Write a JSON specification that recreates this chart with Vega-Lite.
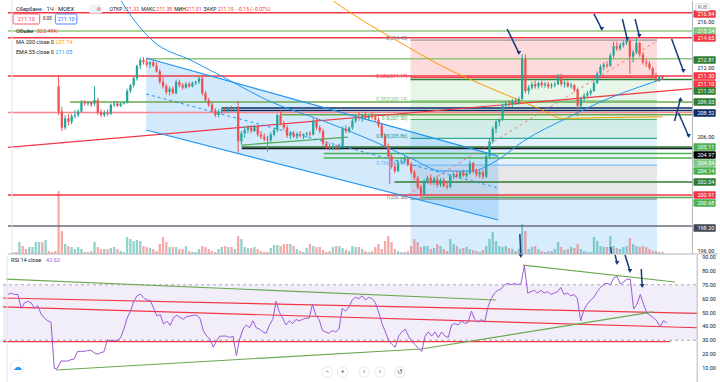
{
"$schema":"https://vega.github.io/schema/vega-lite/v6.json",
"padding":0,
"spacing":1,
"bounds":"flush",
"background":"#ffffff",
"config":{"view":{"stroke":null},"font":"Roboto"},
"datasets":{
"one":[{}],
"bars":[
{"i":0,"o":224.6,"h":224.9,"l":224.4,"c":224.7,"v":300,"r":63},
{"i":1,"o":224.7,"h":224.9,"l":224.5,"c":224.6,"v":300,"r":64},
{"i":2,"o":224.6,"h":225.1,"l":224.5,"c":225.0,"v":1800,"r":63},
{"i":3,"o":225.0,"h":225.1,"l":224.3,"c":224.4,"v":1200,"r":63},
{"i":4,"o":224.4,"h":224.6,"l":224.2,"c":224.3,"v":750,"r":53},
{"i":5,"o":224.3,"h":224.7,"l":224.2,"c":224.6,"v":1050,"r":57},
{"i":6,"o":224.6,"h":224.8,"l":224.5,"c":224.7,"v":1050,"r":58},
{"i":7,"o":224.7,"h":224.9,"l":224.5,"c":224.8,"v":1800,"r":57},
{"i":8,"o":224.8,"h":225.0,"l":224.4,"c":224.9,"v":1800,"r":53},
{"i":9,"o":224.9,"h":225.0,"l":224.2,"c":224.3,"v":1800,"r":55},
{"i":10,"o":224.3,"h":224.6,"l":224.1,"c":224.5,"v":2100,"r":49},
{"i":11,"o":224.5,"h":224.6,"l":224.0,"c":224.1,"v":450,"r":46},
{"i":12,"o":224.1,"h":224.3,"l":223.9,"c":224.0,"v":300,"r":44},
{"i":13,"o":224.0,"h":224.2,"l":223.8,"c":223.9,"v":450,"r":43},
{"i":14,"o":210.4,"h":211.4,"l":207.9,"c":208.2,"v":9450,"r":9.5},
{"i":15,"o":208.2,"h":208.6,"l":206.5,"c":206.8,"v":3450,"r":10},
{"i":16,"o":206.8,"h":207.9,"l":206.6,"c":207.6,"v":1500,"r":15},
{"i":17,"o":207.6,"h":208.0,"l":207.0,"c":207.3,"v":1200,"r":15},
{"i":18,"o":207.3,"h":208.0,"l":207.1,"c":207.8,"v":1050,"r":15},
{"i":19,"o":207.8,"h":208.3,"l":207.6,"c":207.9,"v":750,"r":16},
{"i":20,"o":207.9,"h":208.4,"l":207.7,"c":208.2,"v":1050,"r":16.5},
{"i":21,"o":208.2,"h":209.2,"l":208.1,"c":209.0,"v":750,"r":22},
{"i":22,"o":209.0,"h":209.2,"l":208.7,"c":208.9,"v":300,"r":22},
{"i":23,"o":208.9,"h":209.1,"l":208.7,"c":209.0,"v":300,"r":22},
{"i":24,"o":209.0,"h":209.1,"l":208.6,"c":208.8,"v":450,"r":22.5},
{"i":25,"o":208.9,"h":210.4,"l":208.7,"c":209.2,"v":1800,"r":23},
{"i":26,"o":209.2,"h":209.4,"l":207.9,"c":208.1,"v":1050,"r":21},
{"i":27,"o":208.1,"h":208.4,"l":207.7,"c":207.9,"v":750,"r":20},
{"i":28,"o":207.9,"h":208.3,"l":207.7,"c":208.1,"v":750,"r":21},
{"i":29,"o":208.1,"h":208.4,"l":207.8,"c":208.0,"v":750,"r":21.7},
{"i":30,"o":208.0,"h":208.9,"l":207.9,"c":208.8,"v":900,"r":30},
{"i":31,"o":208.8,"h":209.1,"l":208.6,"c":208.9,"v":1050,"r":30},
{"i":32,"o":208.9,"h":209.1,"l":208.6,"c":208.7,"v":750,"r":29.5},
{"i":33,"o":208.7,"h":209.0,"l":208.6,"c":208.9,"v":450,"r":30},
{"i":34,"o":208.9,"h":209.1,"l":208.8,"c":209.0,"v":300,"r":31.6},
{"i":35,"o":209.0,"h":210.2,"l":208.9,"c":210.0,"v":2550,"r":38},
{"i":36,"o":210.0,"h":210.6,"l":209.8,"c":210.5,"v":2250,"r":46},
{"i":37,"o":210.5,"h":211.3,"l":210.3,"c":211.1,"v":1950,"r":51},
{"i":38,"o":211.1,"h":212.3,"l":210.9,"c":212.2,"v":2100,"r":58},
{"i":39,"o":212.2,"h":212.9,"l":211.9,"c":212.7,"v":1950,"r":62},
{"i":40,"o":212.7,"h":212.95,"l":212.3,"c":212.5,"v":1200,"r":63.3},
{"i":41,"o":212.5,"h":212.8,"l":212.1,"c":212.3,"v":1050,"r":60.5},
{"i":42,"o":212.3,"h":212.6,"l":212.0,"c":212.5,"v":900,"r":59},
{"i":43,"o":212.5,"h":212.7,"l":212.1,"c":212.2,"v":750,"r":58.7},
{"i":44,"o":212.2,"h":212.5,"l":211.6,"c":211.7,"v":450,"r":53},
{"i":45,"o":211.7,"h":211.9,"l":210.6,"c":210.8,"v":1500,"r":47.5},
{"i":46,"o":210.8,"h":211.2,"l":210.2,"c":210.4,"v":2550,"r":48.5},
{"i":47,"o":210.4,"h":210.6,"l":209.7,"c":209.9,"v":1800,"r":41.7},
{"i":48,"o":209.9,"h":210.4,"l":209.6,"c":210.2,"v":1050,"r":43.7},
{"i":49,"o":210.2,"h":210.4,"l":209.7,"c":209.8,"v":1050,"r":40.8},
{"i":50,"o":209.8,"h":211.0,"l":209.7,"c":210.8,"v":1050,"r":46.2},
{"i":51,"o":210.8,"h":211.0,"l":210.3,"c":210.5,"v":750,"r":48},
{"i":52,"o":210.5,"h":210.7,"l":210.1,"c":210.3,"v":750,"r":46.5},
{"i":53,"o":210.3,"h":210.8,"l":210.2,"c":210.6,"v":1200,"r":45.2},
{"i":54,"o":210.6,"h":210.8,"l":210.3,"c":210.4,"v":450,"r":47},
{"i":55,"o":210.4,"h":210.8,"l":210.3,"c":210.7,"v":300,"r":47.5},
{"i":56,"o":210.7,"h":210.9,"l":210.5,"c":210.8,"v":300,"r":48},
{"i":57,"o":210.8,"h":211.3,"l":210.6,"c":211.1,"v":750,"r":48},
{"i":58,"o":211.1,"h":211.3,"l":209.6,"c":209.8,"v":1200,"r":46},
{"i":59,"o":209.8,"h":210.0,"l":209.0,"c":209.2,"v":1050,"r":37},
{"i":60,"o":209.2,"h":209.4,"l":208.6,"c":208.8,"v":750,"r":33},
{"i":61,"o":208.8,"h":209.0,"l":208.1,"c":208.3,"v":450,"r":31},
{"i":62,"o":208.3,"h":208.5,"l":207.7,"c":207.9,"v":300,"r":25},
{"i":63,"o":207.9,"h":208.4,"l":207.7,"c":208.2,"v":750,"r":29.5},
{"i":64,"o":208.2,"h":208.6,"l":208.0,"c":208.4,"v":1050,"r":33},
{"i":65,"o":208.4,"h":208.6,"l":208.1,"c":208.3,"v":1200,"r":33},
{"i":66,"o":208.3,"h":208.6,"l":208.1,"c":208.5,"v":1050,"r":33},
{"i":67,"o":208.5,"h":208.7,"l":208.2,"c":208.4,"v":1050,"r":32},
{"i":68,"o":208.4,"h":208.6,"l":208.2,"c":208.5,"v":750,"r":33},
{"i":69,"o":208.5,"h":209.1,"l":204.6,"c":205.6,"v":2700,"r":19},
{"i":70,"o":205.6,"h":206.5,"l":205.3,"c":206.3,"v":2250,"r":31},
{"i":71,"o":206.3,"h":206.9,"l":205.9,"c":206.6,"v":1050,"r":38},
{"i":72,"o":206.6,"h":207.0,"l":206.3,"c":206.8,"v":900,"r":41},
{"i":73,"o":206.8,"h":207.0,"l":206.3,"c":206.5,"v":900,"r":39},
{"i":74,"o":206.5,"h":207.0,"l":206.4,"c":206.9,"v":1050,"r":44},
{"i":75,"o":206.9,"h":207.0,"l":206.0,"c":206.2,"v":750,"r":39},
{"i":76,"o":206.2,"h":206.5,"l":205.8,"c":206.0,"v":450,"r":38},
{"i":77,"o":206.0,"h":206.3,"l":205.6,"c":205.8,"v":300,"r":36},
{"i":78,"o":205.8,"h":206.1,"l":204.7,"c":205.7,"v":300,"r":35},
{"i":79,"o":205.7,"h":206.4,"l":205.5,"c":206.2,"v":900,"r":41},
{"i":80,"o":206.2,"h":206.8,"l":206.0,"c":206.6,"v":1350,"r":45},
{"i":81,"o":206.6,"h":208.0,"l":206.4,"c":207.9,"v":1350,"r":58},
{"i":82,"o":207.9,"h":208.3,"l":207.0,"c":207.2,"v":1200,"r":50},
{"i":83,"o":207.2,"h":207.4,"l":206.6,"c":206.8,"v":1500,"r":46},
{"i":84,"o":206.8,"h":207.0,"l":205.9,"c":206.1,"v":1500,"r":41},
{"i":85,"o":206.1,"h":206.5,"l":205.8,"c":206.3,"v":1500,"r":44},
{"i":86,"o":206.3,"h":206.5,"l":205.9,"c":206.0,"v":1200,"r":42},
{"i":87,"o":206.0,"h":206.4,"l":205.8,"c":206.2,"v":750,"r":45},
{"i":88,"o":206.2,"h":206.5,"l":205.9,"c":206.1,"v":450,"r":44},
{"i":89,"o":206.1,"h":206.3,"l":205.8,"c":206.2,"v":300,"r":45},
{"i":90,"o":206.2,"h":206.4,"l":205.9,"c":206.3,"v":900,"r":46},
{"i":91,"o":206.3,"h":206.5,"l":206.0,"c":206.2,"v":1500,"r":46},
{"i":92,"o":206.2,"h":207.6,"l":206.1,"c":207.4,"v":1200,"r":56},
{"i":93,"o":207.4,"h":207.6,"l":206.6,"c":206.8,"v":1050,"r":48},
{"i":94,"o":206.8,"h":207.0,"l":206.3,"c":206.5,"v":1050,"r":45},
{"i":95,"o":206.5,"h":206.7,"l":205.2,"c":205.4,"v":600,"r":37},
{"i":96,"o":205.4,"h":205.6,"l":204.9,"c":205.1,"v":300,"r":36},
{"i":97,"o":205.1,"h":205.4,"l":204.8,"c":205.0,"v":450,"r":35},
{"i":98,"o":205.0,"h":205.3,"l":204.8,"c":205.1,"v":1050,"r":37},
{"i":99,"o":205.1,"h":205.3,"l":204.8,"c":205.0,"v":1200,"r":36},
{"i":100,"o":205.0,"h":205.4,"l":204.8,"c":205.2,"v":1200,"r":38},
{"i":101,"o":205.2,"h":206.9,"l":205.1,"c":206.7,"v":900,"r":53},
{"i":102,"o":206.7,"h":207.0,"l":206.3,"c":206.5,"v":600,"r":51},
{"i":103,"o":206.5,"h":206.9,"l":206.3,"c":206.8,"v":450,"r":54},
{"i":104,"o":206.8,"h":207.6,"l":206.6,"c":207.4,"v":1200,"r":59},
{"i":105,"o":207.4,"h":207.9,"l":207.2,"c":207.7,"v":1050,"r":61},
{"i":106,"o":207.7,"h":208.1,"l":207.4,"c":207.6,"v":1050,"r":60},
{"i":107,"o":207.6,"h":208.0,"l":207.3,"c":207.9,"v":750,"r":62},
{"i":108,"o":207.9,"h":208.2,"l":207.5,"c":207.6,"v":450,"r":59},
{"i":109,"o":207.6,"h":208.0,"l":207.4,"c":207.8,"v":300,"r":61},
{"i":110,"o":207.8,"h":208.1,"l":207.5,"c":207.7,"v":450,"r":60},
{"i":111,"o":207.7,"h":208.0,"l":207.3,"c":207.5,"v":1050,"r":57},
{"i":112,"o":207.5,"h":207.7,"l":206.8,"c":207.0,"v":1500,"r":50},
{"i":113,"o":207.0,"h":207.2,"l":205.9,"c":206.1,"v":750,"r":42},
{"i":114,"o":206.1,"h":206.3,"l":205.0,"c":205.2,"v":1950,"r":36},
{"i":115,"o":205.2,"h":205.4,"l":204.1,"c":204.3,"v":2700,"r":30},
{"i":116,"o":204.3,"h":204.5,"l":203.2,"c":203.4,"v":1800,"r":27},
{"i":117,"o":203.4,"h":203.7,"l":202.8,"c":203.0,"v":750,"r":25},
{"i":118,"o":203.0,"h":204.0,"l":202.9,"c":203.8,"v":450,"r":33},
{"i":119,"o":203.8,"h":204.2,"l":203.6,"c":203.9,"v":300,"r":36},
{"i":120,"o":203.9,"h":204.3,"l":203.7,"c":204.1,"v":300,"r":38},
{"i":121,"o":204.1,"h":204.2,"l":203.4,"c":203.6,"v":450,"r":33},
{"i":122,"o":203.6,"h":203.8,"l":202.7,"c":202.9,"v":1200,"r":29},
{"i":123,"o":202.9,"h":203.1,"l":202.2,"c":202.4,"v":2250,"r":27},
{"i":124,"o":202.4,"h":202.6,"l":201.4,"c":201.6,"v":1800,"r":24},
{"i":125,"o":201.6,"h":201.8,"l":200.6,"c":201.0,"v":1050,"r":22},
{"i":126,"o":201.0,"h":202.3,"l":200.9,"c":202.1,"v":1200,"r":33},
{"i":127,"o":202.1,"h":202.6,"l":201.9,"c":202.4,"v":1200,"r":36},
{"i":128,"o":202.4,"h":202.7,"l":201.8,"c":202.0,"v":750,"r":33},
{"i":129,"o":202.0,"h":202.5,"l":201.8,"c":202.3,"v":900,"r":36},
{"i":130,"o":202.3,"h":202.6,"l":201.6,"c":201.8,"v":1500,"r":32},
{"i":131,"o":201.8,"h":202.4,"l":201.6,"c":202.2,"v":1200,"r":36},
{"i":132,"o":202.2,"h":202.4,"l":201.6,"c":201.7,"v":750,"r":33},
{"i":133,"o":201.7,"h":202.0,"l":201.4,"c":201.6,"v":450,"r":32},
{"i":134,"o":201.6,"h":202.7,"l":201.5,"c":202.6,"v":2250,"r":41},
{"i":135,"o":202.6,"h":202.9,"l":202.3,"c":202.7,"v":1500,"r":42},
{"i":136,"o":202.7,"h":203.0,"l":202.4,"c":202.5,"v":1200,"r":41},
{"i":137,"o":202.5,"h":203.0,"l":202.3,"c":202.9,"v":750,"r":44},
{"i":138,"o":202.9,"h":203.1,"l":202.5,"c":202.6,"v":900,"r":42},
{"i":139,"o":202.6,"h":202.9,"l":202.4,"c":202.8,"v":1050,"r":43},
{"i":140,"o":202.8,"h":203.9,"l":202.7,"c":203.7,"v":750,"r":51},
{"i":141,"o":203.7,"h":203.8,"l":202.8,"c":203.0,"v":600,"r":45},
{"i":142,"o":203.0,"h":203.2,"l":202.5,"c":202.7,"v":450,"r":43},
{"i":143,"o":202.7,"h":203.1,"l":202.4,"c":202.9,"v":300,"r":45},
{"i":144,"o":202.9,"h":203.1,"l":202.3,"c":202.5,"v":600,"r":43},
{"i":145,"o":202.5,"h":204.5,"l":202.4,"c":204.3,"v":1200,"r":54},
{"i":146,"o":204.3,"h":205.8,"l":204.1,"c":205.6,"v":2250,"r":60},
{"i":147,"o":205.6,"h":206.9,"l":205.4,"c":206.7,"v":3300,"r":64},
{"i":148,"o":206.7,"h":207.5,"l":206.3,"c":207.3,"v":1950,"r":66},
{"i":149,"o":207.3,"h":207.6,"l":206.9,"c":207.5,"v":1200,"r":67},
{"i":150,"o":207.5,"h":208.9,"l":207.4,"c":208.7,"v":1050,"r":70},
{"i":151,"o":208.7,"h":209.1,"l":208.5,"c":208.9,"v":1200,"r":71},
{"i":152,"o":208.9,"h":209.2,"l":208.6,"c":208.8,"v":900,"r":70},
{"i":153,"o":208.8,"h":209.3,"l":208.6,"c":209.1,"v":750,"r":71},
{"i":154,"o":209.1,"h":209.4,"l":208.8,"c":209.0,"v":450,"r":70},
{"i":155,"o":209.0,"h":209.5,"l":208.8,"c":209.3,"v":750,"r":71},
{"i":156,"o":209.3,"h":213.2,"l":209.2,"c":212.8,"v":4500,"r":84},
{"i":157,"o":212.8,"h":213.2,"l":209.8,"c":210.0,"v":3450,"r":64},
{"i":158,"o":210.0,"h":210.5,"l":209.7,"c":210.3,"v":750,"r":65},
{"i":159,"o":210.3,"h":210.8,"l":210.1,"c":210.6,"v":1050,"r":66},
{"i":160,"o":210.6,"h":210.9,"l":210.2,"c":210.4,"v":1200,"r":64},
{"i":161,"o":210.4,"h":210.8,"l":210.2,"c":210.7,"v":750,"r":66},
{"i":162,"o":210.7,"h":210.9,"l":210.3,"c":210.5,"v":450,"r":64},
{"i":163,"o":210.5,"h":210.8,"l":210.3,"c":210.6,"v":300,"r":65},
{"i":164,"o":210.6,"h":210.8,"l":210.2,"c":210.4,"v":450,"r":63},
{"i":165,"o":210.4,"h":210.7,"l":210.2,"c":210.5,"v":450,"r":64},
{"i":166,"o":210.5,"h":210.8,"l":210.3,"c":210.6,"v":750,"r":65},
{"i":167,"o":210.6,"h":211.5,"l":210.5,"c":211.2,"v":1800,"r":68},
{"i":168,"o":211.2,"h":211.5,"l":210.4,"c":210.6,"v":1050,"r":63},
{"i":169,"o":210.6,"h":210.9,"l":210.3,"c":210.7,"v":600,"r":64},
{"i":170,"o":210.7,"h":210.9,"l":210.3,"c":210.4,"v":750,"r":62},
{"i":171,"o":210.4,"h":210.7,"l":210.2,"c":210.5,"v":1050,"r":63},
{"i":172,"o":210.5,"h":210.6,"l":209.9,"c":210.1,"v":900,"r":60},
{"i":173,"o":210.1,"h":210.3,"l":207.8,"c":208.7,"v":1500,"r":44},
{"i":174,"o":208.7,"h":209.5,"l":208.5,"c":209.3,"v":750,"r":52},
{"i":175,"o":209.3,"h":209.8,"l":209.1,"c":209.6,"v":450,"r":56},
{"i":176,"o":209.6,"h":210.0,"l":209.4,"c":209.8,"v":300,"r":59},
{"i":177,"o":209.8,"h":210.2,"l":209.6,"c":210.0,"v":300,"r":61},
{"i":178,"o":210.0,"h":210.9,"l":209.9,"c":210.7,"v":2550,"r":65},
{"i":179,"o":210.7,"h":211.7,"l":210.6,"c":211.5,"v":1950,"r":68},
{"i":180,"o":211.5,"h":212.3,"l":211.3,"c":212.1,"v":1200,"r":70.5},
{"i":181,"o":212.1,"h":212.5,"l":211.8,"c":212.3,"v":1050,"r":71},
{"i":182,"o":212.3,"h":212.6,"l":212.0,"c":212.2,"v":1050,"r":70},
{"i":183,"o":212.2,"h":213.3,"l":212.1,"c":213.1,"v":2700,"r":75},
{"i":184,"o":213.1,"h":214.3,"l":212.9,"c":213.9,"v":1200,"r":76},
{"i":185,"o":213.9,"h":214.3,"l":213.5,"c":213.7,"v":900,"r":70.5},
{"i":186,"o":213.7,"h":214.2,"l":213.5,"c":214.0,"v":750,"r":72},
{"i":187,"o":214.0,"h":214.4,"l":213.8,"c":214.2,"v":1050,"r":74},
{"i":188,"o":214.2,"h":214.6,"l":214.0,"c":214.4,"v":1200,"r":74},
{"i":189,"o":214.4,"h":214.5,"l":211.5,"c":213.0,"v":2400,"r":52.5},
{"i":190,"o":213.0,"h":213.6,"l":212.5,"c":213.4,"v":1500,"r":56},
{"i":191,"o":213.4,"h":214.6,"l":213.2,"c":214.2,"v":1200,"r":63},
{"i":192,"o":214.2,"h":214.3,"l":213.0,"c":213.2,"v":1050,"r":56},
{"i":193,"o":213.2,"h":213.4,"l":212.3,"c":212.5,"v":1200,"r":49.6},
{"i":194,"o":212.5,"h":212.8,"l":212.1,"c":212.4,"v":1050,"r":48},
{"i":195,"o":212.4,"h":212.6,"l":211.8,"c":212.0,"v":750,"r":46},
{"i":196,"o":212.0,"h":212.1,"l":211.2,"c":211.4,"v":450,"r":44},
{"i":197,"o":211.4,"h":211.6,"l":210.8,"c":210.9,"v":450,"r":39.6},
{"i":198,"o":210.9,"h":211.3,"l":210.8,"c":211.25,"v":300,"r":44},
{"i":199,"o":211.32,"h":211.38,"l":211.01,"c":211.10,"v":323.49,"r":42.63}
],
"fib":[
{"lab":"0(214.45)","p":214.45,"pz":211.17,"k":"l0","kz":"l236"},
{"lab":"0.236(211.17)","p":211.17,"pz":209.14,"k":"l236","kz":"l382"},
{"lab":"0.382(209.14)","p":209.14,"pz":207.5,"k":"l382","kz":"l5"},
{"lab":"0.5(207.50)","p":207.5,"pz":205.86,"k":"l5","kz":"l618"},
{"lab":"0.618(205.86)","p":205.86,"pz":203.52,"k":"l618","kz":"l786"},
{"lab":"0.786(203.52)","p":203.52,"pz":200.55,"k":"l786","kz":"l1"},
{"lab":"1(200.55)","p":200.55,"pz":191.96,"k":"l1","kz":"l1618"}
],
"chan":[{"i":40.8,"p":212.88,"p2":206.59},{"i":148.7,"p":204.31,"p2":198.72}],
"hl":[
{"p":216.84,"i":-1.5,"i2":208.2,"k":"red"},
{"p":215.24,"i":-1.5,"i2":208.2,"k":"lgreen"},
{"p":214.65,"i":-1.5,"i2":208.2,"k":"red"},
{"p":212.81,"i":40.8,"i2":208.2,"k":"lgreen"},
{"p":211.3,"i":-1.5,"i2":208.2,"k":"red"},
{"p":211.0,"i":121.8,"i2":208.2,"k":"dgreen"},
{"p":209.03,"i":17.5,"i2":208.2,"k":"mgreen"},
{"p":208.52,"i":64.1,"i2":208.2,"k":"navy"},
{"p":208.3,"i":64.1,"i2":208.2,"k":"navy"},
{"p":208.11,"i":-1.5,"i2":208.2,"k":"pink"},
{"p":207.92,"i":82.2,"i2":208.2,"k":"mgreen"},
{"p":205.11,"i":70.1,"i2":208.2,"k":"dgreen"},
{"p":204.97,"i":70.1,"i2":208.2,"k":"black"},
{"p":204.54,"i":95.2,"i2":208.2,"k":"green"},
{"p":204.14,"i":95.2,"i2":208.2,"k":"green"},
{"p":202.04,"i":116.9,"i2":208.2,"k":"dgreen"},
{"p":200.91,"i":-1.5,"i2":208.2,"k":"red"},
{"p":200.68,"i":125.4,"i2":208.2,"k":"green"},
{"p":198.2,"i":-1.5,"i2":208.2,"k":"gray"}
],
"tl":[
{"id":"rt","k":"red","i":-1.5,"p":205.06},{"id":"rt","k":"red","i":208.2,"p":210.21},
{"id":"cu","k":"blue","i":40.8,"p":212.88},{"id":"cu","k":"blue","i":148.7,"p":204.31},
{"id":"cl","k":"blue","i":40.8,"p":206.59},{"id":"cl","k":"blue","i":148.7,"p":198.72},
{"id":"gs","k":"green","i":70.1,"p":205.27},{"id":"gs","k":"green","i":102.7,"p":205.97}
],
"tld":[
{"id":"cm","k":"blue","i":40.8,"p":209.73},{"id":"cm","k":"blue","i":148.7,"p":201.52},
{"id":"pk","k":"pink","i":119.3,"p":200.64},{"id":"pk","k":"pink","i":197.3,"p":214.37}
],
"ema":[{"i":28.7,"p":220.05},{"i":33.2,"p":217.86},{"i":37.8,"p":215.94},{"i":42.9,"p":214.37},{"i":55,"p":212.62},{"i":65,"p":211.13},{"i":79.2,"p":209.03},{"i":95.2,"p":207.37},{"i":110.3,"p":205.63},{"i":122.4,"p":204.05},{"i":131.4,"p":203.0},{"i":140.5,"p":203.0},{"i":148,"p":203.88},{"i":156.5,"p":205.63},{"i":169.8,"p":207.64},{"i":182.8,"p":209.38},{"i":191.9,"p":210.35},{"i":199,"p":211.05}],
"ma":[{"i":92,"p":219.2},{"i":98.2,"p":217.86},{"i":108,"p":216.0},{"i":117.8,"p":214.37},{"i":131.4,"p":212.18},{"i":150.5,"p":209.73},{"i":160.7,"p":208.51},{"i":168.6,"p":207.6},{"i":182.8,"p":207.68},{"i":199,"p":207.74}],
"arr":[
{"i":151.4,"p":215.41,"i2":155.0,"p2":213.32,"d":"down"},
{"i":178.0,"p":216.73,"i2":180.4,"p2":215.41,"d":"down"},
{"i":186.7,"p":216.29,"i2":188.2,"p2":214.54,"d":"down"},
{"i":190.6,"p":216.29,"i2":191.9,"p2":214.8,"d":"down"},
{"i":201.8,"p":214.54,"i2":205.4,"p2":211.74,"d":"down"},
{"i":202.7,"p":207.37,"i2":204.5,"p2":209.3,"d":"up"},
{"i":203.9,"p":208.07,"i2":207.0,"p2":206.06,"d":"down"},
{"i":155.3,"p":197.5,"i2":155.6,"p2":195.57,"d":"down"},
{"i":183.1,"p":196.36,"i2":183.4,"p2":195.75,"d":"none"}
],
"tags":[
{"t":"216.84","ty":216.73,"k":"red"},
{"t":"215.24","ty":215.24,"k":"lgreen"},
{"t":"214.65","ty":214.63,"k":"red"},
{"t":"212.81","ty":212.71,"k":"dgreen"},
{"t":"211.30","ty":211.31,"k":"red"},
{"t":"211.10","ty":210.61,"k":"red"},
{"t":"211.00","ty":209.99,"k":"dgreen"},
{"t":"209.03","ty":209.03,"k":"dgreen"},
{"t":"208.52","ty":208.07,"k":"navy"},
{"t":"205.11","ty":205.1,"k":"green"},
{"t":"204.97","ty":204.4,"k":"black"},
{"t":"204.54","ty":203.7,"k":"lgreen"},
{"t":"204.14","ty":203.0,"k":"green"},
{"t":"202.04","ty":202.04,"k":"dgreen"},
{"t":"200.91","ty":200.9,"k":"red"},
{"t":"200.68","ty":200.21,"k":"green"},
{"t":"198.20","ty":198.02,"k":"gray"}
],
"pticks":[{"p":196},{"p":206},{"p":212},{"p":216}],
"rtl":[
{"id":"r1","k":"red","i":-1.5,"r":60.45},{"id":"r1","k":"red","i":208.2,"r":49.4},
{"id":"r2","k":"red","i":-1.5,"r":54.0},{"id":"r2","k":"red","i":208.2,"r":39.0},
{"id":"r3","k":"red","i":-1.5,"r":29},{"id":"r3","k":"red","i":200,"r":29},
{"id":"g1","k":"green","i":-0.6,"r":74.1},{"id":"g1","k":"green","i":147.4,"r":59.0},
{"id":"g2","k":"green","i":155.6,"r":84.2},{"id":"g2","k":"green","i":201.5,"r":72.0},
{"id":"g3","k":"green","i":14.5,"r":8.55},{"id":"g3","k":"green","i":124.8,"r":23.7},{"id":"g3","k":"green","i":194.9,"r":50.4}
],
"rarr":[
{"i":183.4,"r":91.44,"i2":184.0,"r2":85.7},
{"i":186.4,"r":91.44,"i2":187.9,"r2":79.9},
{"i":191.3,"r":81.35,"i2":191.6,"r2":69.1}
],
"rticks":[{"r":10},{"r":20},{"r":30},{"r":40},{"r":50},{"r":60},{"r":70},{"r":80},{"r":90}],
"nav":[{"b":"−","i":96.4},{"b":"+","i":101.1},{"b":"‹","i":107.6},{"b":"›","i":112.4},{"b":"↺","i":118.4}]
},
"vconcat":[
{
"width":720,"height":253,
"layer":[
{"layer":[
 {"data":{"name":"fib"},"mark":{"type":"rect","opacity":0.18,"clip":true},
  "encoding":{"x":{"datum":121.8,"type":"quantitative","scale":{"domain":[-1.5,216],"nice":false,"zero":false},"axis":null},"x2":{"datum":197.3},
   "y":{"field":"p","type":"quantitative","scale":{"domain":[195.75,217.86],"nice":false,"zero":false},"axis":{"grid":true,"values":[196,198,200,202,204,206,208,210,212,214,216],"labels":false,"ticks":false,"domain":false,"title":null,"gridColor":"#eef1f6"}},
   "y2":{"field":"pz"},
   "color":{"field":"kz","type":"nominal","scale":{"domain":["l0","l236","l382","l5","l618","l786","l1","l1618"],"range":["#787b86","#f23645","#81c784","#4caf50","#089981","#64b5f6","#787b86","#2196f3"]},"legend":null}}},
 {"data":{"name":"chan"},"mark":{"type":"area","color":"#2196f3","opacity":0.2},
  "encoding":{"x":{"field":"i","type":"quantitative","scale":{"domain":[-1.5,216],"nice":false,"zero":false},"axis":{"grid":true,"values":[3,13.9,24.8,35.7,46.6,57.5,68.4,79.3,90.2,101.1,112,122.9,133.8,144.7,155.6,166.5,177.4,188.3,199.2],"labels":false,"ticks":false,"domain":false,"title":null,"gridColor":"#eef1f6"}},
   "y":{"field":"p","type":"quantitative","scale":{"domain":[195.75,217.86],"nice":false,"zero":false},"axis":null},"y2":{"field":"p2"}}}
],"resolve":{"scale":{"color":"independent"}}},
{"data":{"name":"bars"},"mark":{"type":"bar","orient":"vertical","width":2.3,"opacity":0.5},
 "encoding":{"x":{"field":"i","type":"quantitative","scale":{"domain":[-1.5,216],"nice":false,"zero":false},"axis":null},
  "y":{"field":"v","type":"quantitative","scale":{"domain":[0,38000],"nice":false},"axis":null},
  "color":{"condition":{"test":"datum.c >= datum.o","value":"#26a69a"},"value":"#ef5350"}}},
{"layer":[
 {"data":{"name":"hl"},"mark":{"type":"rule","strokeWidth":1.5},
  "encoding":{"x":{"field":"i","type":"quantitative","scale":{"domain":[-1.5,216],"nice":false,"zero":false},"axis":null},"x2":{"field":"i2"},"y":{"field":"p","type":"quantitative","scale":{"domain":[195.75,217.86],"nice":false,"zero":false},"axis":null},
   "color":{"field":"k","type":"nominal","scale":{"domain":["red","lgreen","mgreen","green","dgreen","navy","black","pink","gray"],"range":["#f23645","#93c47d","#6aa84f","#4caf50","#2e7d32","#0b2a66","#131722","#f7868c","#6a6d78"]},"legend":null}}},
 {"data":{"name":"fib"},"mark":{"type":"rule","strokeWidth":1},
  "encoding":{"x":{"datum":121.8,"type":"quantitative","scale":{"domain":[-1.5,216],"nice":false,"zero":false},"axis":null},"x2":{"datum":197.3},
   "y":{"field":"p","type":"quantitative","scale":{"domain":[195.75,217.86],"nice":false,"zero":false},"axis":null},
   "color":{"field":"k","type":"nominal","scale":{"domain":["l0","l236","l382","l5","l618","l786","l1","l1618"],"range":["#787b86","#f23645","#81c784","#4caf50","#089981","#64b5f6","#787b86","#2196f3"]},"legend":null}}},
 {"data":{"name":"tl"},"mark":{"type":"line","strokeWidth":1.2},
  "encoding":{"x":{"field":"i","type":"quantitative","scale":{"domain":[-1.5,216],"nice":false,"zero":false},"axis":null},"y":{"field":"p","type":"quantitative","scale":{"domain":[195.75,217.86],"nice":false,"zero":false},"axis":null},"detail":{"field":"id"},
   "color":{"field":"k","type":"nominal","scale":{"domain":["red","blue","green"],"range":["#f23645","#2196f3","#4caf50"]},"legend":null}}},
 {"data":{"name":"tld"},"mark":{"type":"line","strokeWidth":1,"strokeDash":[3,3]},
  "encoding":{"x":{"field":"i","type":"quantitative","scale":{"domain":[-1.5,216],"nice":false,"zero":false},"axis":null},"y":{"field":"p","type":"quantitative","scale":{"domain":[195.75,217.86],"nice":false,"zero":false},"axis":null},"detail":{"field":"id"},
   "color":{"field":"k","type":"nominal","scale":{"domain":["blue","pink"],"range":["#2196f3","#f77c80"]},"legend":null}}},
 {"data":{"name":"ema"},"mark":{"type":"line","color":"#2196f3","strokeWidth":1,"interpolate":"monotone","clip":true},
  "encoding":{"x":{"field":"i","type":"quantitative","scale":{"domain":[-1.5,216],"nice":false,"zero":false},"axis":null},"y":{"field":"p","type":"quantitative","scale":{"domain":[195.75,217.86],"nice":false,"zero":false},"axis":null}}},
 {"data":{"name":"ma"},"mark":{"type":"line","color":"#ff9800","strokeWidth":1,"interpolate":"monotone","clip":true},
  "encoding":{"x":{"field":"i","type":"quantitative","scale":{"domain":[-1.5,216],"nice":false,"zero":false},"axis":null},"y":{"field":"p","type":"quantitative","scale":{"domain":[195.75,217.86],"nice":false,"zero":false},"axis":null}}},
 {"data":{"name":"one"},"mark":{"type":"rule","color":"#c77ee0","strokeWidth":1.5},
  "encoding":{"x":{"datum":115.4,"type":"quantitative","scale":{"domain":[-1.5,216],"nice":false,"zero":false},"axis":null},
   "y":{"datum":204.75,"type":"quantitative","scale":{"domain":[195.75,217.86],"nice":false,"zero":false},"axis":null},"y2":{"datum":201.87}}},
 {"data":{"name":"bars"},"mark":{"type":"rule","strokeWidth":1,"clip":true},
  "encoding":{"x":{"field":"i","type":"quantitative","scale":{"domain":[-1.5,216],"nice":false,"zero":false},"axis":null},"y":{"field":"l","type":"quantitative","scale":{"domain":[195.75,217.86],"nice":false,"zero":false},"axis":null},"y2":{"field":"h"},
   "color":{"condition":{"test":"datum.c >= datum.o","value":"#26a69a"},"value":"#ef5350"}}},
 {"data":{"name":"bars"},"mark":{"type":"bar","orient":"vertical","width":2.3,"clip":true},
  "encoding":{"x":{"field":"i","type":"quantitative","scale":{"domain":[-1.5,216],"nice":false,"zero":false},"axis":null},"y":{"field":"o","type":"quantitative","scale":{"domain":[195.75,217.86],"nice":false,"zero":false},"axis":null},"y2":{"field":"c"},
   "color":{"condition":{"test":"datum.c >= datum.o","value":"#26a69a"},"value":"#ef5350"}}},
 {"data":{"name":"fib"},"mark":{"type":"text","align":"right","baseline":"bottom","fontSize":5,"dy":1},
  "encoding":{"x":{"datum":120.9,"type":"quantitative","scale":{"domain":[-1.5,216],"nice":false,"zero":false},"axis":null},
   "y":{"field":"p","type":"quantitative","scale":{"domain":[195.75,217.86],"nice":false,"zero":false},"axis":null},"text":{"field":"lab"},
   "color":{"field":"k","type":"nominal","scale":{"domain":["l0","l236","l382","l5","l618","l786","l1","l1618"],"range":["#787b86","#f23645","#81c784","#4caf50","#089981","#64b5f6","#787b86","#2196f3"]},"legend":null}}},
 {"data":{"name":"arr"},"mark":{"type":"rule","color":"#163b7e","strokeWidth":1.5},
  "encoding":{"x":{"field":"i","type":"quantitative","scale":{"domain":[-1.5,216],"nice":false,"zero":false},"axis":null},"x2":{"field":"i2"},"y":{"field":"p","type":"quantitative","scale":{"domain":[195.75,217.86],"nice":false,"zero":false},"axis":null},"y2":{"field":"p2"}}},
 {"data":{"name":"arr"},"transform":[{"filter":"datum.d != 'none'"}],"mark":{"type":"point","filled":true,"color":"#163b7e","size":22,"opacity":1},
  "encoding":{"x":{"field":"i2","type":"quantitative","scale":{"domain":[-1.5,216],"nice":false,"zero":false},"axis":null},
   "y":{"field":"p2","type":"quantitative","scale":{"domain":[195.75,217.86],"nice":false,"zero":false},"axis":null},
   "shape":{"field":"d","type":"nominal","scale":{"domain":["down","up"],"range":["triangle-down","triangle-up"]},"legend":null}}},
 {"data":{"name":"one"},"mark":{"type":"rect","color":"#ffffff","opacity":1},
  "encoding":{"x":{"datum":208.2,"type":"quantitative","scale":{"domain":[-1.5,216],"nice":false,"zero":false},"axis":null},"x2":{"datum":216},
   "y":{"datum":217.86,"type":"quantitative","scale":{"domain":[195.75,217.86],"nice":false,"zero":false},"axis":null},"y2":{"datum":195.75}}},
 {"data":{"name":"one"},"mark":{"type":"rule","color":"#b2b5be","strokeWidth":1},
  "encoding":{"x":{"datum":208.2,"type":"quantitative","scale":{"domain":[-1.5,216],"nice":false,"zero":false},"axis":null},
   "y":{"datum":217.86,"type":"quantitative","scale":{"domain":[195.75,217.86],"nice":false,"zero":false},"axis":null},"y2":{"datum":195.75}}},
 {"data":{"name":"one"},"mark":{"type":"rule","color":"#b2b5be","strokeWidth":1},
  "encoding":{"x":{"datum":-1.5,"type":"quantitative","scale":{"domain":[-1.5,216],"nice":false,"zero":false},"axis":null},"x2":{"datum":216},
   "y":{"datum":195.75,"type":"quantitative","scale":{"domain":[195.75,217.86],"nice":false,"zero":false},"axis":null}}},
 {"data":{"name":"one"},"mark":{"type":"rule","color":"#e0e3eb","strokeWidth":1},
  "encoding":{"x":{"datum":-0.3,"type":"quantitative","scale":{"domain":[-1.5,216],"nice":false,"zero":false},"axis":null},
   "y":{"datum":217.86,"type":"quantitative","scale":{"domain":[195.75,217.86],"nice":false,"zero":false},"axis":null},"y2":{"datum":195.75}}},
 {"data":{"name":"pticks"},"mark":{"type":"text","align":"left","baseline":"middle","fontSize":5.5,"color":"#131722"},
  "encoding":{"x":{"datum":209.7,"type":"quantitative","scale":{"domain":[-1.5,216],"nice":false,"zero":false},"axis":null},
   "y":{"field":"p","type":"quantitative","scale":{"domain":[195.75,217.86],"nice":false,"zero":false},"axis":null},"text":{"field":"p","format":".2f"}}},
 {"data":{"name":"tags"},"mark":{"type":"rect","yOffset":-3.7,"y2Offset":3.7,"cornerRadius":1},
  "encoding":{"x":{"datum":208.5,"type":"quantitative","scale":{"domain":[-1.5,216],"nice":false,"zero":false},"axis":null},"x2":{"datum":215.3},
   "y":{"field":"ty","type":"quantitative","scale":{"domain":[195.75,217.86],"nice":false,"zero":false},"axis":null},"y2":{"field":"ty"},
   "color":{"field":"k","type":"nominal","scale":{"domain":["red","lgreen","green","dgreen","navy","black","gray"],"range":["#f23645","#81c784","#4caf50","#2e7d32","#0b2a66","#000000","#434651"]},"legend":null}}},
 {"data":{"name":"tags"},"mark":{"type":"text","align":"left","baseline":"middle","fontSize":5.5,"color":"#ffffff"},
  "encoding":{"x":{"datum":209.7,"type":"quantitative","scale":{"domain":[-1.5,216],"nice":false,"zero":false},"axis":null},
   "y":{"field":"ty","type":"quantitative","scale":{"domain":[195.75,217.86],"nice":false,"zero":false},"axis":null},"text":{"field":"t"}}},
 {"data":{"name":"one"},"mark":{"type":"rect","fill":"#ffffff","stroke":"#d1d4dc","strokeWidth":0.8,"cornerRadius":1},
  "encoding":{"x":{"datum":209.2,"type":"quantitative","scale":{"domain":[-1.5,216],"nice":false,"zero":false},"axis":null},"x2":{"datum":213.3},
   "y":{"datum":217.62,"type":"quantitative","scale":{"domain":[195.75,217.86],"nice":false,"zero":false},"axis":null},"y2":{"datum":216.99}}},
 {"data":{"name":"one"},"mark":{"type":"text","text":"RUB","align":"center","baseline":"middle","fontSize":5,"color":"#787b86"},
  "encoding":{"x":{"datum":211.25,"type":"quantitative","scale":{"domain":[-1.5,216],"nice":false,"zero":false},"axis":null},
   "y":{"datum":217.31,"type":"quantitative","scale":{"domain":[195.75,217.86],"nice":false,"zero":false},"axis":null}}},
 {"data":{"name":"one"},"mark":{"type":"text","text":"Сбербанк · 1Ч · MOEX","align":"left","baseline":"middle","fontSize":5.8,"color":"#131722"},
  "encoding":{"x":{"datum":0.92,"type":"quantitative","scale":{"domain":[-1.5,216],"nice":false,"zero":false},"axis":null},
   "y":{"datum":217.16,"type":"quantitative","scale":{"domain":[195.75,217.86],"nice":false,"zero":false},"axis":null}}},
 {"data":{"name":"one"},"mark":{"type":"rect","fill":"#f0f3fa","cornerRadius":2},
  "encoding":{"x":{"datum":23.3,"type":"quantitative","scale":{"domain":[-1.5,216],"nice":false,"zero":false},"axis":null},"x2":{"datum":27.4},
   "y":{"datum":217.55,"type":"quantitative","scale":{"domain":[195.75,217.86],"nice":false,"zero":false},"axis":null},"y2":{"datum":216.78}}},
 {"data":{"name":"one"},"mark":{"type":"point","filled":true,"color":"#f7a1aa","size":18,"opacity":1},
  "encoding":{"x":{"datum":26.3,"type":"quantitative","scale":{"domain":[-1.5,216],"nice":false,"zero":false},"axis":null},
   "y":{"datum":217.16,"type":"quantitative","scale":{"domain":[195.75,217.86],"nice":false,"zero":false},"axis":null}}},
 {"data":{"name":"one"},"mark":{"type":"text","text":"ОТКР","align":"left","baseline":"middle","fontSize":5.1,"color":"#131722"},
  "encoding":{"x":{"datum":29.6,"type":"quantitative","scale":{"domain":[-1.5,216],"nice":false,"zero":false},"axis":null},
   "y":{"datum":217.16,"type":"quantitative","scale":{"domain":[195.75,217.86],"nice":false,"zero":false},"axis":null}}},
 {"data":{"name":"one"},"mark":{"type":"text","text":"211.32","align":"left","baseline":"middle","fontSize":5.1,"color":"#f23645"},
  "encoding":{"x":{"datum":33.85,"type":"quantitative","scale":{"domain":[-1.5,216],"nice":false,"zero":false},"axis":null},
   "y":{"datum":217.16,"type":"quantitative","scale":{"domain":[195.75,217.86],"nice":false,"zero":false},"axis":null}}},
 {"data":{"name":"one"},"mark":{"type":"text","text":"МАКС","align":"left","baseline":"middle","fontSize":5.1,"color":"#131722"},
  "encoding":{"x":{"datum":39.3,"type":"quantitative","scale":{"domain":[-1.5,216],"nice":false,"zero":false},"axis":null},
   "y":{"datum":217.16,"type":"quantitative","scale":{"domain":[195.75,217.86],"nice":false,"zero":false},"axis":null}}},
 {"data":{"name":"one"},"mark":{"type":"text","text":"211.38","align":"left","baseline":"middle","fontSize":5.1,"color":"#f23645"},
  "encoding":{"x":{"datum":44.0,"type":"quantitative","scale":{"domain":[-1.5,216],"nice":false,"zero":false},"axis":null},
   "y":{"datum":217.16,"type":"quantitative","scale":{"domain":[195.75,217.86],"nice":false,"zero":false},"axis":null}}},
 {"data":{"name":"one"},"mark":{"type":"text","text":"МИН","align":"left","baseline":"middle","fontSize":5.1,"color":"#131722"},
  "encoding":{"x":{"datum":49.4,"type":"quantitative","scale":{"domain":[-1.5,216],"nice":false,"zero":false},"axis":null},
   "y":{"datum":217.16,"type":"quantitative","scale":{"domain":[195.75,217.86],"nice":false,"zero":false},"axis":null}}},
 {"data":{"name":"one"},"mark":{"type":"text","text":"211.01","align":"left","baseline":"middle","fontSize":5.1,"color":"#f23645"},
  "encoding":{"x":{"datum":53.0,"type":"quantitative","scale":{"domain":[-1.5,216],"nice":false,"zero":false},"axis":null},
   "y":{"datum":217.16,"type":"quantitative","scale":{"domain":[195.75,217.86],"nice":false,"zero":false},"axis":null}}},
 {"data":{"name":"one"},"mark":{"type":"text","text":"ЗАКР","align":"left","baseline":"middle","fontSize":5.1,"color":"#131722"},
  "encoding":{"x":{"datum":58.4,"type":"quantitative","scale":{"domain":[-1.5,216],"nice":false,"zero":false},"axis":null},
   "y":{"datum":217.16,"type":"quantitative","scale":{"domain":[195.75,217.86],"nice":false,"zero":false},"axis":null}}},
 {"data":{"name":"one"},"mark":{"type":"text","text":"211.10","align":"left","baseline":"middle","fontSize":5.1,"color":"#f23645"},
  "encoding":{"x":{"datum":62.8,"type":"quantitative","scale":{"domain":[-1.5,216],"nice":false,"zero":false},"axis":null},
   "y":{"datum":217.16,"type":"quantitative","scale":{"domain":[195.75,217.86],"nice":false,"zero":false},"axis":null}}},
 {"data":{"name":"one"},"mark":{"type":"text","text":"−0.15 (−0.07%)","align":"left","baseline":"middle","fontSize":5.1,"color":"#f23645"},
  "encoding":{"x":{"datum":68.4,"type":"quantitative","scale":{"domain":[-1.5,216],"nice":false,"zero":false},"axis":null},
   "y":{"datum":217.16,"type":"quantitative","scale":{"domain":[195.75,217.86],"nice":false,"zero":false},"axis":null}}},
 {"data":{"name":"one"},"mark":{"type":"rect","fill":"#ffffff","stroke":"#f23645","strokeWidth":0.8,"cornerRadius":1.5},
  "encoding":{"x":{"datum":0.05,"type":"quantitative","scale":{"domain":[-1.5,216],"nice":false,"zero":false},"axis":null},"x2":{"datum":8.2},
   "y":{"datum":216.73,"type":"quantitative","scale":{"domain":[195.75,217.86],"nice":false,"zero":false},"axis":null},"y2":{"datum":215.85}}},
 {"data":{"name":"one"},"mark":{"type":"text","text":"211.10","align":"center","baseline":"middle","fontSize":5.5,"color":"#f23645"},
  "encoding":{"x":{"datum":4.1,"type":"quantitative","scale":{"domain":[-1.5,216],"nice":false,"zero":false},"axis":null},
   "y":{"datum":216.29,"type":"quantitative","scale":{"domain":[195.75,217.86],"nice":false,"zero":false},"axis":null}}},
 {"data":{"name":"one"},"mark":{"type":"text","text":"0.00","align":"center","baseline":"middle","fontSize":4.5,"color":"#131722"},
  "encoding":{"x":{"datum":10.6,"type":"quantitative","scale":{"domain":[-1.5,216],"nice":false,"zero":false},"axis":null},
   "y":{"datum":216.29,"type":"quantitative","scale":{"domain":[195.75,217.86],"nice":false,"zero":false},"axis":null}}},
 {"data":{"name":"one"},"mark":{"type":"rect","fill":"#ffffff","stroke":"#2962ff","strokeWidth":0.8,"cornerRadius":1.5},
  "encoding":{"x":{"datum":13.0,"type":"quantitative","scale":{"domain":[-1.5,216],"nice":false,"zero":false},"axis":null},"x2":{"datum":19.6},
   "y":{"datum":216.73,"type":"quantitative","scale":{"domain":[195.75,217.86],"nice":false,"zero":false},"axis":null},"y2":{"datum":215.85}}},
 {"data":{"name":"one"},"mark":{"type":"text","text":"211.10","align":"center","baseline":"middle","fontSize":5.5,"color":"#2962ff"},
  "encoding":{"x":{"datum":16.3,"type":"quantitative","scale":{"domain":[-1.5,216],"nice":false,"zero":false},"axis":null},
   "y":{"datum":216.29,"type":"quantitative","scale":{"domain":[195.75,217.86],"nice":false,"zero":false},"axis":null}}},
 {"data":{"name":"one"},"mark":{"type":"text","text":"Объём","align":"left","baseline":"middle","fontSize":5.5,"color":"#131722"},
  "encoding":{"x":{"datum":0.92,"type":"quantitative","scale":{"domain":[-1.5,216],"nice":false,"zero":false},"axis":null},
   "y":{"datum":215.24,"type":"quantitative","scale":{"domain":[195.75,217.86],"nice":false,"zero":false},"axis":null}}},
 {"data":{"name":"one"},"mark":{"type":"text","text":"323.49K","align":"left","baseline":"middle","fontSize":5.5,"color":"#f23645"},
  "encoding":{"x":{"datum":7.3,"type":"quantitative","scale":{"domain":[-1.5,216],"nice":false,"zero":false},"axis":null},
   "y":{"datum":215.24,"type":"quantitative","scale":{"domain":[195.75,217.86],"nice":false,"zero":false},"axis":null}}},
 {"data":{"name":"one"},"mark":{"type":"text","text":"MA 200 close 0","align":"left","baseline":"middle","fontSize":5.5,"color":"#131722"},
  "encoding":{"x":{"datum":0.92,"type":"quantitative","scale":{"domain":[-1.5,216],"nice":false,"zero":false},"axis":null},
   "y":{"datum":214.3,"type":"quantitative","scale":{"domain":[195.75,217.86],"nice":false,"zero":false},"axis":null}}},
 {"data":{"name":"one"},"mark":{"type":"text","text":"207.74","align":"left","baseline":"middle","fontSize":5.5,"color":"#ff9800"},
  "encoding":{"x":{"datum":13.0,"type":"quantitative","scale":{"domain":[-1.5,216],"nice":false,"zero":false},"axis":null},
   "y":{"datum":214.3,"type":"quantitative","scale":{"domain":[195.75,217.86],"nice":false,"zero":false},"axis":null}}},
 {"data":{"name":"one"},"mark":{"type":"text","text":"EMA 55 close 0","align":"left","baseline":"middle","fontSize":5.5,"color":"#131722"},
  "encoding":{"x":{"datum":0.92,"type":"quantitative","scale":{"domain":[-1.5,216],"nice":false,"zero":false},"axis":null},
   "y":{"datum":213.43,"type":"quantitative","scale":{"domain":[195.75,217.86],"nice":false,"zero":false},"axis":null}}},
 {"data":{"name":"one"},"mark":{"type":"text","text":"211.05","align":"left","baseline":"middle","fontSize":5.5,"color":"#2196f3"},
  "encoding":{"x":{"datum":13.0,"type":"quantitative","scale":{"domain":[-1.5,216],"nice":false,"zero":false},"axis":null},
   "y":{"datum":213.43,"type":"quantitative","scale":{"domain":[195.75,217.86],"nice":false,"zero":false},"axis":null}}}
],"resolve":{"scale":{"color":"independent","shape":"independent"}}}
],
"resolve":{"scale":{"y":"independent","color":"independent"}}
},
{
"width":720,"height":128,
"layer":[
 {"data":{"name":"one"},"mark":{"type":"rect","color":"#7e57c2","opacity":0.1},
  "encoding":{"x":{"datum":-1.5,"type":"quantitative","scale":{"domain":[-1.5,216],"nice":false,"zero":false},"axis":null},"x2":{"datum":208.2},
   "y":{"datum":70,"type":"quantitative","scale":{"domain":[-0.8,91.44],"nice":false,"zero":false},"axis":{"grid":true,"values":[10,20,30,40,50,60,70,80,90],"labels":false,"ticks":false,"domain":false,"title":null,"gridColor":"#eef1f6"}},"y2":{"datum":30}}},
 {"data":{"name":"rticks"},"transform":[{"filter":"datum.r == 30 || datum.r == 70"}],"mark":{"type":"rule","color":"#9598a1","strokeDash":[3,3],"strokeWidth":0.8},
  "encoding":{"x":{"datum":-1.5,"type":"quantitative","scale":{"domain":[-1.5,216],"nice":false,"zero":false},"axis":null},"x2":{"datum":208.2},
   "y":{"field":"r","type":"quantitative","scale":{"domain":[-0.8,91.44],"nice":false,"zero":false},"axis":null}}},
 {"data":{"name":"rtl"},"mark":{"type":"line","strokeWidth":1.2},
  "encoding":{"x":{"field":"i","type":"quantitative","scale":{"domain":[-1.5,216],"nice":false,"zero":false},"axis":null},"y":{"field":"r","type":"quantitative","scale":{"domain":[-0.8,91.44],"nice":false,"zero":false},"axis":null},"detail":{"field":"id"},
   "color":{"field":"k","type":"nominal","scale":{"domain":["red","green"],"range":["#f23645","#6aa84f"]},"legend":null}}},
 {"data":{"name":"bars"},"mark":{"type":"line","color":"#9c5ad6","strokeWidth":1},
  "encoding":{"x":{"field":"i","type":"quantitative","scale":{"domain":[-1.5,216],"nice":false,"zero":false},"axis":{"grid":true,"values":[3,13.9,24.8,35.7,46.6,57.5,68.4,79.3,90.2,101.1,112,122.9,133.8,144.7,155.6,166.5,177.4,188.3,199.2],"labels":false,"ticks":false,"domain":false,"title":null,"gridColor":"#eef1f6"}},
   "y":{"field":"r","type":"quantitative","scale":{"domain":[-0.8,91.44],"nice":false,"zero":false},"axis":null}}},
 {"data":{"name":"rarr"},"mark":{"type":"rule","color":"#163b7e","strokeWidth":1.5},
  "encoding":{"x":{"field":"i","type":"quantitative","scale":{"domain":[-1.5,216],"nice":false,"zero":false},"axis":null},"x2":{"field":"i2"},"y":{"field":"r","type":"quantitative","scale":{"domain":[-0.8,91.44],"nice":false,"zero":false},"axis":null},"y2":{"field":"r2"}}},
 {"data":{"name":"rarr"},"mark":{"type":"point","filled":true,"shape":"triangle-down","color":"#163b7e","size":22,"opacity":1},
  "encoding":{"x":{"field":"i2","type":"quantitative","scale":{"domain":[-1.5,216],"nice":false,"zero":false},"axis":null},
   "y":{"field":"r2","type":"quantitative","scale":{"domain":[-0.8,91.44],"nice":false,"zero":false},"axis":null}}},
 {"data":{"name":"one"},"mark":{"type":"rect","color":"#ffffff","opacity":1},
  "encoding":{"x":{"datum":208.2,"type":"quantitative","scale":{"domain":[-1.5,216],"nice":false,"zero":false},"axis":null},"x2":{"datum":216},
   "y":{"datum":91.44,"type":"quantitative","scale":{"domain":[-0.8,91.44],"nice":false,"zero":false},"axis":null},"y2":{"datum":-0.8}}},
 {"data":{"name":"one"},"mark":{"type":"rule","color":"#b2b5be","strokeWidth":1},
  "encoding":{"x":{"datum":208.2,"type":"quantitative","scale":{"domain":[-1.5,216],"nice":false,"zero":false},"axis":null},
   "y":{"datum":91.44,"type":"quantitative","scale":{"domain":[-0.8,91.44],"nice":false,"zero":false},"axis":null},"y2":{"datum":-0.8}}},
 {"data":{"name":"one"},"mark":{"type":"rule","color":"#e0e3eb","strokeWidth":1},
  "encoding":{"x":{"datum":-0.3,"type":"quantitative","scale":{"domain":[-1.5,216],"nice":false,"zero":false},"axis":null},
   "y":{"datum":91.44,"type":"quantitative","scale":{"domain":[-0.8,91.44],"nice":false,"zero":false},"axis":null},"y2":{"datum":-0.8}}},
 {"data":{"name":"rticks"},"mark":{"type":"text","align":"left","baseline":"middle","fontSize":5.5,"color":"#131722"},
  "encoding":{"x":{"datum":209.7,"type":"quantitative","scale":{"domain":[-1.5,216],"nice":false,"zero":false},"axis":null},
   "y":{"field":"r","type":"quantitative","scale":{"domain":[-0.8,91.44],"nice":false,"zero":false},"axis":null},"text":{"field":"r","format":".2f"}}},
 {"data":{"name":"one"},"mark":{"type":"text","text":"RSI 14 close","align":"left","baseline":"middle","fontSize":5.5,"color":"#131722"},
  "encoding":{"x":{"datum":0.92,"type":"quantitative","scale":{"domain":[-1.5,216],"nice":false,"zero":false},"axis":null},
   "y":{"datum":87.8,"type":"quantitative","scale":{"domain":[-0.8,91.44],"nice":false,"zero":false},"axis":null}}},
 {"data":{"name":"one"},"mark":{"type":"text","text":"42.63","align":"left","baseline":"middle","fontSize":5.5,"color":"#9c5ad6"},
  "encoding":{"x":{"datum":11.5,"type":"quantitative","scale":{"domain":[-1.5,216],"nice":false,"zero":false},"axis":null},
   "y":{"datum":87.8,"type":"quantitative","scale":{"domain":[-0.8,91.44],"nice":false,"zero":false},"axis":null}}},
 {"data":{"name":"nav"},"mark":{"type":"point","filled":true,"fill":"#ffffff","stroke":"#e0e3eb","strokeWidth":0.8,"size":110,"opacity":1},
  "encoding":{"x":{"field":"i","type":"quantitative","scale":{"domain":[-1.5,216],"nice":false,"zero":false},"axis":null},"y":{"datum":7.1,"type":"quantitative","scale":{"domain":[-0.8,91.44],"nice":false,"zero":false},"axis":null}}},
 {"data":{"name":"nav"},"mark":{"type":"text","align":"center","baseline":"middle","fontSize":7,"color":"#50535e"},
  "encoding":{"x":{"field":"i","type":"quantitative","scale":{"domain":[-1.5,216],"nice":false,"zero":false},"axis":null},"y":{"datum":7.1,"type":"quantitative","scale":{"domain":[-0.8,91.44],"nice":false,"zero":false},"axis":null},"text":{"field":"b"}}},
 {"data":{"name":"one"},"mark":{"type":"point","filled":true,"fill":"#ffffff","stroke":"#e0e3eb","strokeWidth":0.8,"size":200,"opacity":1},
  "encoding":{"x":{"datum":2.73,"type":"quantitative","scale":{"domain":[-1.5,216],"nice":false,"zero":false},"axis":null},
   "y":{"datum":10.7,"type":"quantitative","scale":{"domain":[-0.8,91.44],"nice":false,"zero":false},"axis":null}}},
 {"data":{"name":"one"},"mark":{"type":"text","text":"☁","align":"center","baseline":"middle","fontSize":9,"color":"#2196f3"},
  "encoding":{"x":{"datum":2.73,"type":"quantitative","scale":{"domain":[-1.5,216],"nice":false,"zero":false},"axis":null},
   "y":{"datum":10.7,"type":"quantitative","scale":{"domain":[-0.8,91.44],"nice":false,"zero":false},"axis":null}}}
]
}
]
}
